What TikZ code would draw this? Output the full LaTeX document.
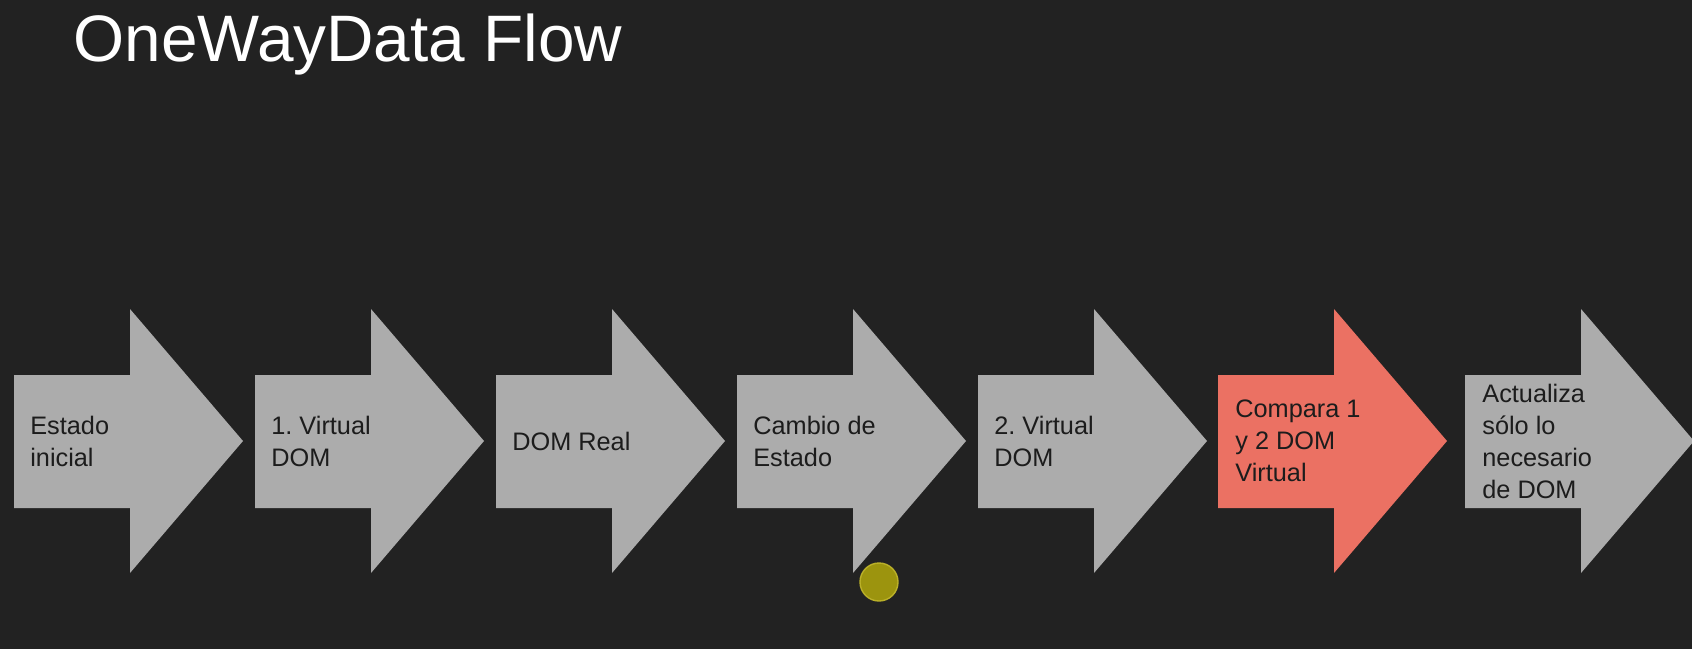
\documentclass[tikz,border=0pt]{standalone}
\usepackage{fontspec}
\setmainfont{Liberation Sans}
\frenchspacing
\definecolor{bgdark}{RGB}{34,34,34}
\definecolor{stepgrey}{RGB}{172,172,172}
\definecolor{stepred}{RGB}{235,113,99}
\definecolor{labeldark}{RGB}{28,28,28}
\definecolor{dotfill}{RGB}{156,148,14}
\definecolor{dotrim}{RGB}{186,176,40}
\tikzset{
  steplabel/.style={anchor=west, inner sep=0pt, align=left, text=labeldark,
    font=\fontsize{14.4}{18.2}\selectfont},
}
\begin{document}
\begin{tikzpicture}[x=0.02cm, y=-0.02cm]

  \fill[bgdark] (0, 0) rectangle (1692, 649);
  \useasboundingbox (0, 0) rectangle (1692, 649);

  \node[anchor=base west, inner sep=0pt, text=white,
    font=\fontsize{37.4}{44}\selectfont] (title) at (73, 61) {OneWayData Flow};

  % arrows: body 375..508, head 309..573, tip at y = 441
  \fill[stepgrey] (14, 375) -- (14 + 116, 375) -- (14 + 116, 309) -- (14 + 229, 441) -- (14 + 116, 573) -- (14 + 116, 508) -- (14, 508) -- cycle;
  \fill[stepgrey] (255, 375) -- (255 + 116, 375) -- (255 + 116, 309) -- (255 + 229, 441) -- (255 + 116, 573) -- (255 + 116, 508) -- (255, 508) -- cycle;
  \fill[stepgrey] (496, 375) -- (496 + 116, 375) -- (496 + 116, 309) -- (496 + 229, 441) -- (496 + 116, 573) -- (496 + 116, 508) -- (496, 508) -- cycle;
  \fill[stepgrey] (737, 375) -- (737 + 116, 375) -- (737 + 116, 309) -- (737 + 229, 441) -- (737 + 116, 573) -- (737 + 116, 508) -- (737, 508) -- cycle;
  \fill[stepgrey] (978, 375) -- (978 + 116, 375) -- (978 + 116, 309) -- (978 + 229, 441) -- (978 + 116, 573) -- (978 + 116, 508) -- (978, 508) -- cycle;
  \fill[stepred] (1218, 375) -- (1218 + 116, 375) -- (1218 + 116, 309) -- (1218 + 229, 441) -- (1218 + 116, 573) -- (1218 + 116, 508) -- (1218, 508) -- cycle;
  \fill[stepgrey] (1465, 375) -- (1465 + 116, 375) -- (1465 + 116, 309) -- (1465 + 229, 441) -- (1465 + 116, 573) -- (1465 + 116, 508) -- (1465, 508) -- cycle;

  \node[steplabel] (inicial) at (14 + 16, 441) {Estado\\inicial};
  \node[steplabel] (virtuala) at (255 + 16, 441) {1. Virtual\\DOM};
  \node[steplabel] (domreal) at (496 + 16, 441) {DOM Real};
  \node[steplabel] (cambio) at (737 + 16, 441) {Cambio de\\Estado};
  \node[steplabel] (virtualb) at (978 + 16, 441) {2. Virtual\\DOM};
  \node[steplabel] (compara) at (1218 + 17, 441) {Compara 1\\y 2 DOM\\Virtual};
  \node[steplabel] (actualiza) at (1465 + 17, 441) {Actualiza\\sólo lo\\necesario\\de DOM};

  \filldraw[fill=dotfill, draw=dotrim, line width=0.8pt] (879, 582) circle (19);

\end{tikzpicture}
\end{document}
